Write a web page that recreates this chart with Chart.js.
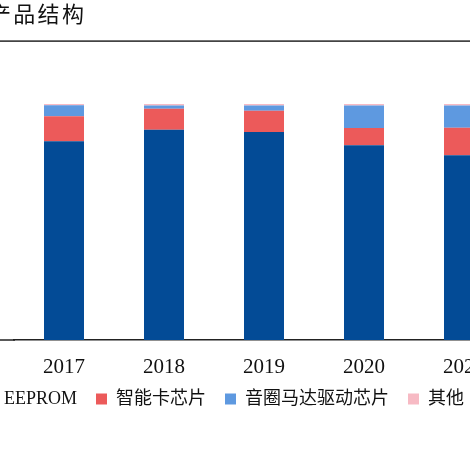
<!DOCTYPE html>
<html>
<head>
<meta charset="utf-8">
<script src="https://cdn.jsdelivr.net/npm/chart.js@4/dist/chart.umd.min.js"></script>
<style>
html,body{margin:0;padding:0;width:470px;height:470px;overflow:hidden;background:#fff;}
#c{position:absolute;left:-66px;top:0;width:580px;height:470px;}
</style>
</head>
<body>
<canvas id="c" width="580" height="470"></canvas>
<script>
const titleText = '产品结构';
const years = ['2017', '2018', '2019', '2020', '2021'];
const seriesNames = ['EEPROM', '智能卡芯片', '音圈马达驱动芯片', '其他'];
const eeprom = [84.2, 89.1, 88.1, 82.5, 78.3];
const smartCard = [10.6, 8.9, 9.0, 7.3, 11.6];
const vcmDriver = [4.7, 1.4, 2.3, 9.6, 9.5];
const others = [0.5, 0.6, 0.6, 0.6, 0.6];
const colors = ['#034B96', '#EC5A5A', '#5E99E0', '#F7BAC4'];

const decor = {
  id: 'decor',
  afterLayout(chart) {
    // tuck the legend a little closer to the year labels
    if (chart.legend) {
      chart.legend.top -= 5;
      chart.legend.bottom -= 5;
    }
  },
  afterDraw(chart) {
    const ctx = chart.ctx;
    const ca = chart.chartArea;
    ctx.save();
    // title
    ctx.font = '22px "Noto Sans CJK SC"';
    try { ctx.letterSpacing = '2.3px'; } catch (e) {}
    ctx.fillStyle = '#111';
    ctx.textBaseline = 'middle';
    ctx.textAlign = 'left';
    ctx.fillText(titleText, 55, 14);
    try { ctx.letterSpacing = '0px'; } catch (e) {}
    // separator under title
    ctx.strokeStyle = '#444';
    ctx.lineWidth = 1.7;
    ctx.beginPath();
    ctx.moveTo(0, 41.2);
    ctx.lineTo(chart.width, 41.2);
    ctx.stroke();
    // extend baseline to the left edge
    ctx.strokeStyle = '#222';
    ctx.lineWidth = 1.5;
    ctx.beginPath();
    ctx.moveTo(0, ca.bottom);
    ctx.lineTo(ca.left + 1, ca.bottom);
    ctx.stroke();
    ctx.restore();
  }
};

const values = [eeprom, smartCard, vcmDriver, others];
new Chart(document.getElementById('c'), {
  type: 'bar',
  data: {
    labels: years,
    datasets: seriesNames.map((n, i) => ({
      label: n,
      data: values[i],
      backgroundColor: colors[i],
      borderWidth: 0,
      categoryPercentage: 0.8,
      barPercentage: 0.5
    }))
  },
  options: {
    responsive: false,
    animation: false,
    devicePixelRatio: 1,
    layout: { padding: { top: 104, bottom: 47, left: 0, right: 0 } },
    plugins: {
      title: { display: false },
      tooltip: { enabled: false },
      legend: {
        display: true,
        position: 'bottom',
        align: 'center',
        labels: {
          boxWidth: 11,
          boxHeight: 11,
          padding: 19,
          color: '#111',
          font: { family: '"Liberation Serif", "Noto Sans CJK SC"', size: 18 }
        }
      }
    },
    scales: {
      x: {
        stacked: true,
        grid: { display: false, drawTicks: false },
        border: { display: true, color: '#222', width: 1.5 },
        ticks: {
          padding: 15,
          color: '#111',
          font: { family: '"Liberation Serif"', size: 21 }
        },
        afterFit(s) { s.height = 36; }
      },
      y: {
        stacked: true,
        min: 0,
        max: 100,
        grid: { display: false, drawTicks: false },
        border: { display: false },
        ticks: { display: false },
        afterFit(s) { s.width = 80; }
      }
    }
  },
  plugins: [decor]
});
</script>
</body>
</html>
